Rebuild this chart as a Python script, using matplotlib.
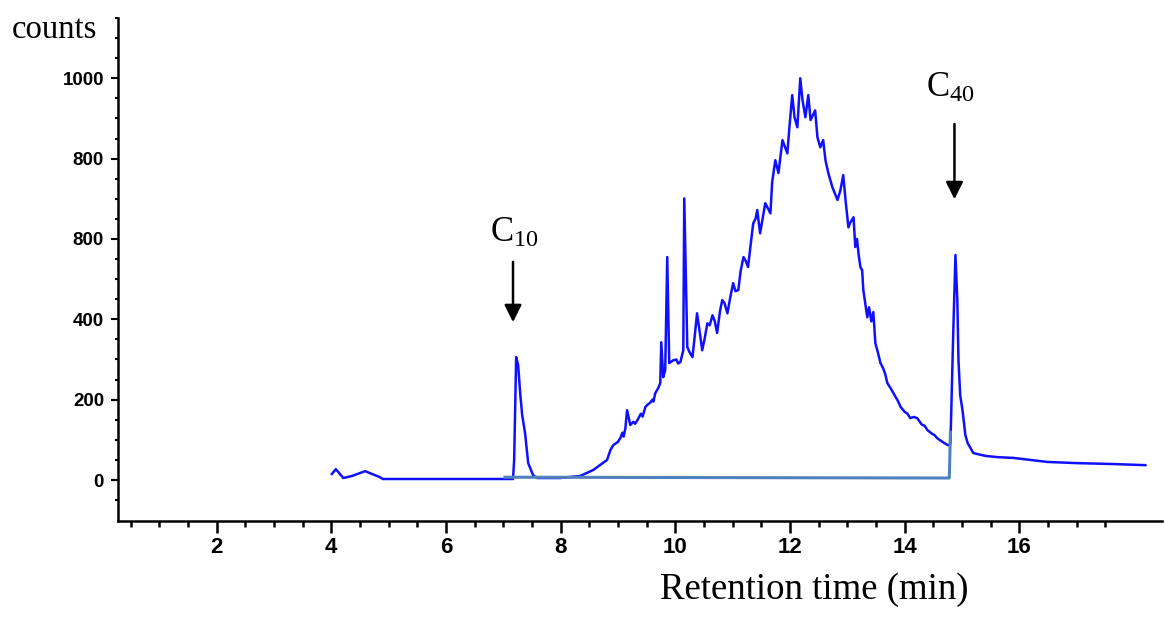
import matplotlib
matplotlib.use("Agg")
import matplotlib.pyplot as plt
from matplotlib import font_manager
from matplotlib.ticker import FixedLocator

# chromatogram trace (retention time in min, counts)
rt = [4.01, 4.08, 4.21, 4.36, 4.59, 4.85, 4.90, 6.07, 7.17,
      7.19, 7.225, 7.26, 7.295, 7.33, 7.38, 7.435, 7.52, 7.59, 7.99,
      8.34, 8.57, 8.81, 8.87, 8.92, 9.00, 9.04, 9.08, 9.10, 9.13,
      9.16, 9.215, 9.27, 9.30, 9.34, 9.40, 9.43, 9.48, 9.52, 9.56,
      9.60, 9.62, 9.65, 9.70, 9.738, 9.756, 9.79, 9.825, 9.86, 9.895,
      9.965, 10.02, 10.05, 10.09, 10.14, 10.157, 10.21, 10.25, 10.30, 10.33,
      10.38, 10.43, 10.47, 10.51, 10.56, 10.60, 10.65, 10.69, 10.73, 10.78,
      10.82, 10.86, 10.91, 10.96, 11.01, 11.05, 11.10, 11.14, 11.19, 11.23,
      11.27, 11.31, 11.36, 11.40, 11.43, 11.48, 11.57, 11.66, 11.69, 11.745,
      11.80, 11.87, 11.955, 11.99, 12.04, 12.08, 12.13, 12.18, 12.22, 12.27,
      12.32, 12.36, 12.44, 12.48, 12.53, 12.58, 12.62, 12.67, 12.74, 12.83,
      12.88, 12.93, 12.97, 13.02, 13.05, 13.11, 13.14, 13.17, 13.20, 13.23,
      13.26, 13.28, 13.35, 13.38, 13.42, 13.455, 13.49, 13.53, 13.58, 13.62,
      13.66, 13.70, 13.75, 13.805, 13.85, 13.88, 13.93, 14.00, 14.05, 14.10,
      14.16, 14.22, 14.30, 14.35, 14.40, 14.48, 14.52, 14.57, 14.66, 14.75,
      14.78,
      14.80, 14.85, 14.887, 14.92, 14.94, 14.97, 15.01, 15.06, 15.10, 15.20,
      15.41, 15.62, 15.90, 16.49, 17.02, 17.59, 18.20]
counts = [15, 27, 5, 10, 22, 7, 2.5, 2.5, 2.5,
          50, 306, 286, 216, 162, 117, 42, 12, 5, 5,
          10, 25, 50, 75, 87, 95, 104, 118, 108, 129,
          174, 137, 145, 140, 149, 165, 158, 182, 188, 192,
          200, 195, 216, 228, 241, 343, 256, 274, 555, 291,
          298, 300, 290, 294, 323, 701, 331, 318, 306, 345,
          415, 365, 323, 350, 390, 385, 410, 395, 366, 420,
          448, 440, 415, 455, 490, 470, 473, 520, 555, 545,
          530, 580, 639, 650, 672, 614, 689, 664, 741, 796,
          764, 846, 813, 876, 958, 903, 878, 1000, 945, 903,
          958, 896, 920, 853, 828, 846, 796, 764, 729, 697,
          721, 759, 697, 629, 640, 654, 580, 600, 560, 530,
          522, 473, 405, 430, 395, 418, 341, 320, 291, 280,
          265, 241, 230, 216, 205, 198, 182, 170, 165, 154,
          157, 154, 138, 135, 124, 115, 112, 104, 95, 87,
          87,
          92, 373, 560, 448, 298, 211, 174, 112, 92, 67,
          60, 57, 55, 45, 42, 40, 37]

# integration baseline (drop line at C40)
base_rt = [7.03, 14.78, 14.80]
base_counts = [7, 5, 119]

x_major = [2, 4, 6, 8, 10, 12, 14, 16]
y_major = [0, 200, 400, 600, 800, 1000]
y_labels = ['0', '200', '400', '800', '800', '1000']

names = {f.name for f in font_manager.fontManager.ttflist}
ylab_font = 'Liberation Sans Narrow' if 'Liberation Sans Narrow' in names else 'Liberation Sans'

plt.rcParams['mathtext.fontset'] = 'custom'
plt.rcParams['mathtext.rm'] = 'Liberation Serif'
plt.rcParams['mathtext.it'] = 'Liberation Serif:italic'

W, H = 1165, 622
fig = plt.figure(figsize=(W / 100, H / 100), dpi=100)
ax = fig.add_axes([118 / W, 1 - 521 / H, (1162 - 118) / W, (521 - 18) / H])

ax.plot(rt, counts, color='#1010ff', lw=1.8, zorder=3)
ax.plot(base_rt, base_counts, color='#4f81bd', lw=2.2, zorder=4)

ax.set_xlim(0.28, 18.49)
ax.set_ylim(-102, 1150)

for s in ['top', 'right']:
    ax.spines[s].set_visible(False)
for s in ['left', 'bottom']:
    ax.spines[s].set_linewidth(1.8)

ax.xaxis.set_major_locator(FixedLocator(x_major))
ax.xaxis.set_minor_locator(FixedLocator([v / 2 for v in range(1, 36)]))
ax.yaxis.set_major_locator(FixedLocator(y_major))
ax.yaxis.set_minor_locator(FixedLocator(list(range(-50, 1151, 50))))
ax.set_yticklabels(y_labels)

ax.tick_params(axis='x', which='major', direction='out', length=8.5, width=1.8, pad=3)
ax.tick_params(axis='x', which='minor', direction='out', length=4.5, width=1.8)
ax.tick_params(axis='y', which='major', direction='out', length=5, width=1.5, pad=5)
ax.tick_params(axis='y', which='minor', direction='out', length=2, width=1.5)

for lab in ax.get_xticklabels():
    lab.set_fontfamily('Liberation Sans')
    lab.set_fontweight('bold')
    lab.set_fontsize(16)
for lab in ax.get_yticklabels():
    lab.set_fontfamily(ylab_font)
    lab.set_fontweight('bold')
    lab.set_fontsize(13.5)

# peak markers
ax.annotate('', xy=(7.17, 386), xytext=(7.17, 550),
            arrowprops=dict(arrowstyle='-|>', color='black', lw=1.8, mutation_scale=26))
ax.annotate('', xy=(14.87, 692), xytext=(14.87, 893),
            arrowprops=dict(arrowstyle='-|>', color='black', lw=1.8, mutation_scale=26))
ax.text(7.2, 592, r'$\mathrm{C}_{\mathrm{10}}$', ha='center', va='baseline', fontsize=25)
ax.text(14.8, 953, r'$\mathrm{C}_{\mathrm{40}}$', ha='center', va='baseline', fontsize=25)

fig.text(12 / W, 1 - 38 / H, 'counts', ha='left', va='baseline',
         fontfamily='Liberation Serif', fontsize=23.5)
fig.text(660 / W, 1 - 599 / H, 'Retention time (min)', ha='left', va='baseline',
         fontfamily='Liberation Serif', fontsize=26.5)

fig.savefig('out.png', dpi=100)
